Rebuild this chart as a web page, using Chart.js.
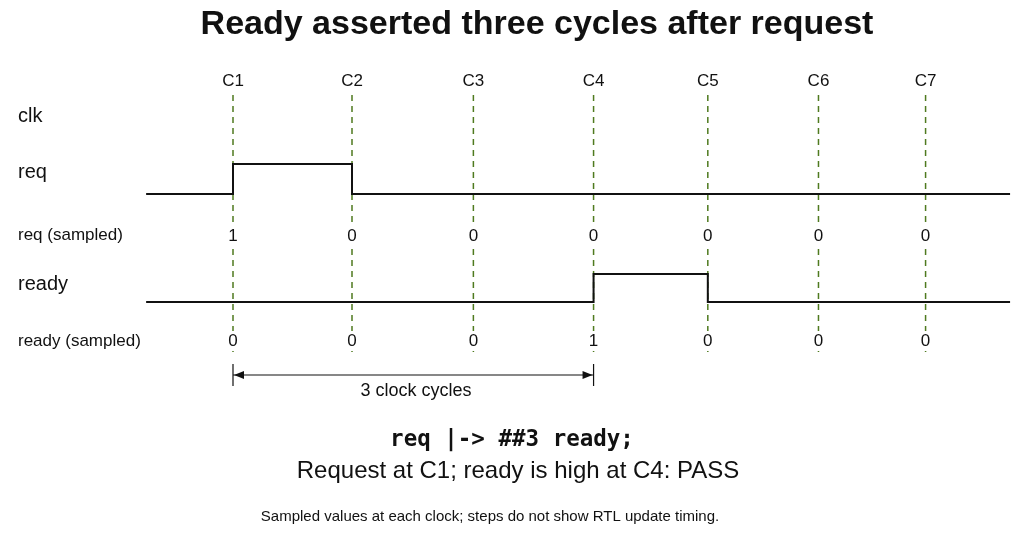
<!DOCTYPE html>
<html><head><meta charset="utf-8">
<script src="https://cdn.jsdelivr.net/npm/chart.js@4"></script>
<style>html,body{margin:0;padding:0;background:#fff}#w{width:1024px;height:533px}</style>
</head><body><div id="w"><canvas id="c"></canvas></div>
<script>
const clockLabels = ['C1','C2','C3','C4','C5','C6','C7'];
const clockTimes = [0, 1, 2.02, 3.03, 3.99, 4.92, 5.82];
const reqSampled = [1,0,0,0,0,0,0];
const readySampled = [0,0,0,1,0,0,0];
const traceStart = -0.73, traceEnd = 6.53;
const rows = {req:{low:194,high:164}, ready:{low:302,high:274}};

function wave(samples, row){
  const lvl=v=>v?row.high:row.low;
  let prev=0;
  const pts=[{x:traceStart,y:lvl(0)}];
  samples.forEach((v,i)=>{pts.push({x:clockTimes[i],y:lvl(prev)});pts.push({x:clockTimes[i],y:lvl(v)});prev=v;});
  pts.push({x:traceEnd,y:lvl(prev)});
  return pts;
}
const deco = {
  id:'deco',
  beforeDatasetsDraw(ch){
    const c=ch.ctx, xs=ch.scales.x, ys=ch.scales.y;
    c.save();
    c.strokeStyle='#4f7a1f'; c.lineWidth=1.5; c.setLineDash([6,5]);
    clockTimes.forEach(t=>{const x=xs.getPixelForValue(t);c.beginPath();c.moveTo(x,ys.getPixelForValue(95));c.lineTo(x,ys.getPixelForValue(352));c.stroke();});
    c.restore();
  },
  afterDatasetsDraw(ch){
    const c=ch.ctx, xs=ch.scales.x, ys=ch.scales.y;
    const P=t=>xs.getPixelForValue(t), Y=v=>ys.getPixelForValue(v);
    c.save(); c.textBaseline='middle';
    c.textAlign='center';
    const digit=(s,x,y)=>{c.fillStyle='#fff';c.fillRect(x-7,y-10,14,20);c.fillStyle='#111';c.fillText(s,x,y);};
    c.font='17px "Liberation Sans", Arial, sans-serif';
    reqSampled.forEach((v,i)=>digit(String(v),P(clockTimes[i]),Y(236)));
    readySampled.forEach((v,i)=>digit(String(v),P(clockTimes[i]),Y(341)));
    c.fillStyle='#111';
    c.font='bold 34px "Liberation Sans", Arial, sans-serif';
    c.fillText('Ready asserted three cycles after request',537,Y(25));
    c.font='17px "Liberation Sans", Arial, sans-serif';
    clockLabels.forEach((l,i)=>c.fillText(l,P(clockTimes[i]),Y(81)));
    c.textAlign='left';
    c.font='20px "Liberation Sans", Arial, sans-serif';
    c.fillText('clk',18,Y(116)); c.fillText('req',18,Y(172)); c.fillText('ready',18,Y(284));
    c.font='17px "Liberation Sans", Arial, sans-serif';
    c.fillText('req (sampled)',18,Y(235)); c.fillText('ready (sampled)',18,Y(341));
    const a=P(clockTimes[0]), b=P(clockTimes[3]), ay=Y(375);
    c.strokeStyle='#111'; c.lineWidth=1.2;
    c.beginPath(); c.moveTo(a,ay); c.lineTo(b,ay);
    c.moveTo(a,Y(364)); c.lineTo(a,Y(386)); c.moveTo(b,Y(364)); c.lineTo(b,Y(386)); c.stroke();
    c.beginPath(); c.moveTo(a+1,ay); c.lineTo(a+11,ay-4); c.lineTo(a+11,ay+4); c.closePath(); c.fill();
    c.beginPath(); c.moveTo(b-1,ay); c.lineTo(b-11,ay-4); c.lineTo(b-11,ay+4); c.closePath(); c.fill();
    c.textAlign='center';
    c.font='18px "Liberation Sans", Arial, sans-serif';
    c.fillText('3 clock cycles',416,Y(391));
    c.font='bold 22.5px "DejaVu Sans Mono", monospace';
    c.fillText('req |-> ##3 ready;',512,Y(440));
    c.font='24px "Liberation Sans", Arial, sans-serif';
    c.fillText('Request at C1; ready is high at C4: PASS',518,Y(471));
    c.font='15px "Liberation Sans", Arial, sans-serif';
    c.fillText('Sampled values at each clock; steps do not show RTL update timing.',490,Y(517));
    c.restore();
  }
};
new Chart(document.getElementById('c'),{
  type:'line',
  data:{datasets:[
    {data:wave(reqSampled,rows.req),borderColor:'#111',borderWidth:2,pointRadius:0,fill:false,tension:0},
    {data:wave(readySampled,rows.ready),borderColor:'#111',borderWidth:2,pointRadius:0,fill:false,tension:0}
  ]},
  options:{responsive:true,maintainAspectRatio:false,animation:false,
    layout:{padding:0},
    plugins:{legend:{display:false},tooltip:{enabled:false},title:{display:false}},
    scales:{
      x:{type:'linear',display:false,min:-233/119,max:(1024-233)/119},
      y:{type:'linear',display:false,min:0,max:533,reverse:true}
    }},
  plugins:[deco]
});
</script></body></html>
